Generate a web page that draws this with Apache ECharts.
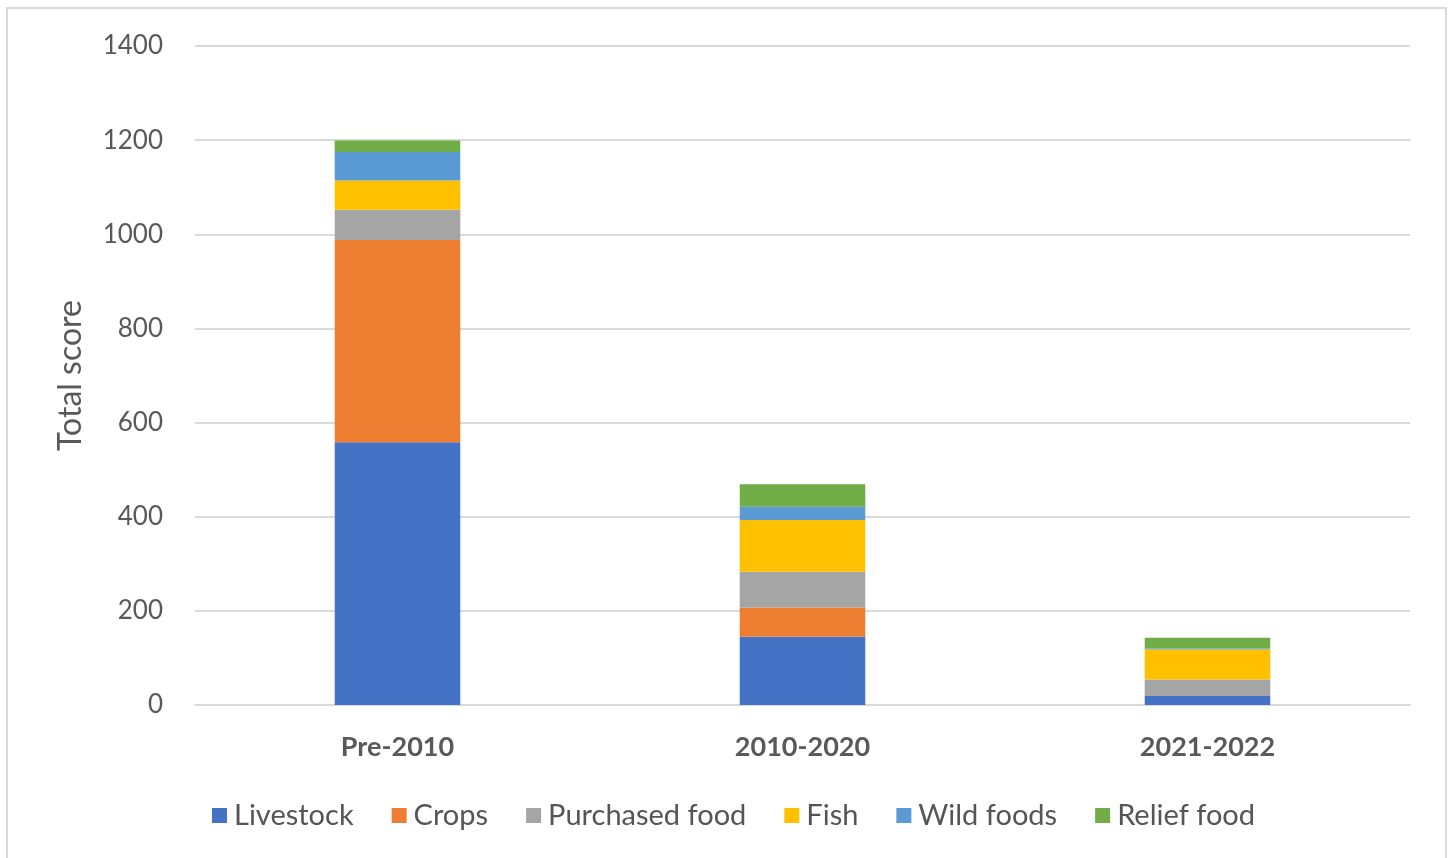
<!DOCTYPE html>
<html><head><meta charset="utf-8">
<script src="https://cdn.jsdelivr.net/npm/echarts@6/dist/echarts.min.js"></script>
<style>html,body{margin:0;padding:0;background:#fff}#c{width:1451px;height:858px}</style>
</head><body><div id="c"></div>
<script>
const categories = ['Pre-2010', '2010-2020', '2021-2022'];
const livestock = [558, 145, 19];
const crops = [430, 62, 0];
const purchased = [64, 76, 35];
const fish = [62, 110, 64];
const wild = [61, 28, 2];
const relief = [24, 48, 23];
const yTicks = [0, 200, 400, 600, 800, 1000, 1200, 1400];

const seriesDefs = [
  ['Livestock', livestock, '#4472C4'],
  ['Crops', crops, '#ED7D31'],
  ['Purchased food', purchased, '#A5A5A5'],
  ['Fish', fish, '#FFC000'],
  ['Wild foods', wild, '#5B9BD5'],
  ['Relief food', relief, '#70AD47']
];
const font = 'Lato, "Open Sans", sans-serif';
const chart = echarts.init(document.getElementById('c'));
chart.setOption({
  animation: false,
  textStyle: {fontFamily: font},
  graphic: [{type: 'rect', shape: {x: 7, y: 8, width: 1439, height: 860},
    style: {fill: 'none', stroke: '#d9d9d9', lineWidth: 2}}],
  grid: {left: 195, right: 41, top: 46, bottom: 153},
  legend: {
    bottom: 23, left: 207, itemWidth: 15, itemHeight: 15, itemGap: 38,
    icon: 'rect',
    textStyle: {fontSize: 29, color: '#555', fontFamily: font, padding: [0, 0, 0, 2]},
    data: seriesDefs.map(s => s[0])
  },
  xAxis: {
    type: 'category', data: categories,
    axisLine: {lineStyle: {color: '#d9d9d9', width: 2}},
    axisTick: {show: false},
    axisLabel: {fontSize: 27, fontWeight: 'bold', color: '#595959', margin: 29}
  },
  yAxis: {
    type: 'value', min: 0, max: 1400, interval: 200,
    name: 'Total score', nameLocation: 'middle', nameGap: 108, nameRotate: 90,
    nameTextStyle: {fontSize: 32, color: '#595959'},
    axisLine: {show: false}, axisTick: {show: false},
    splitLine: {lineStyle: {color: '#d9d9d9', width: 2}},
    axisLabel: {fontSize: 26, color: '#595959', margin: 32,
      formatter: v => yTicks.includes(v) ? String(v) : ''}
  },
  series: seriesDefs.map(s => ({
    name: s[0], type: 'bar', stack: 'total', data: s[1], barWidth: '31%',
    itemStyle: {color: s[2]}
  }))
});
</script></body></html>
